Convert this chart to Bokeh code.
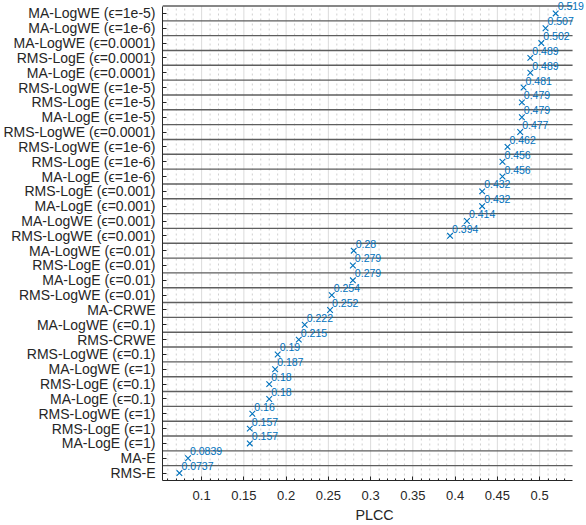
from bokeh.plotting import figure
from bokeh.models import Range1d, FixedTicker, ColumnDataSource
from bokeh.core.properties import value
from bokeh.embed import file_html
from bokeh.resources import INLINE

names = [
    "MA-LogWE (ϵ=1e-5)", "MA-LogWE (ϵ=1e-6)", "MA-LogWE (ϵ=0.0001)",
    "RMS-LogE (ϵ=0.0001)", "MA-LogE (ϵ=0.0001)", "RMS-LogWE (ϵ=1e-5)",
    "RMS-LogE (ϵ=1e-5)", "MA-LogE (ϵ=1e-5)", "RMS-LogWE (ϵ=0.0001)",
    "RMS-LogWE (ϵ=1e-6)", "RMS-LogE (ϵ=1e-6)", "MA-LogE (ϵ=1e-6)",
    "RMS-LogE (ϵ=0.001)", "MA-LogE (ϵ=0.001)", "MA-LogWE (ϵ=0.001)",
    "RMS-LogWE (ϵ=0.001)", "MA-LogWE (ϵ=0.01)", "RMS-LogE (ϵ=0.01)",
    "MA-LogE (ϵ=0.01)", "RMS-LogWE (ϵ=0.01)", "MA-CRWE",
    "MA-LogWE (ϵ=0.1)", "RMS-CRWE", "RMS-LogWE (ϵ=0.1)",
    "MA-LogWE (ϵ=1)", "RMS-LogE (ϵ=0.1)", "MA-LogE (ϵ=0.1)",
    "RMS-LogWE (ϵ=1)", "RMS-LogE (ϵ=1)", "MA-LogE (ϵ=1)",
    "MA-E", "RMS-E",
]
plcc = [
    0.519, 0.507, 0.502, 0.489, 0.489, 0.481, 0.479, 0.479, 0.477,
    0.462, 0.456, 0.456, 0.432, 0.432, 0.414, 0.394, 0.28, 0.279,
    0.279, 0.254, 0.252, 0.222, 0.215, 0.19, 0.187, 0.18, 0.18,
    0.16, 0.157, 0.157, 0.0839, 0.0737,
]
x_ticks = [0.1, 0.15, 0.2, 0.25, 0.3, 0.35, 0.4, 0.45, 0.5]
x_minor = [round(0.06 + 0.01 * k, 2) for k in range(48)]

N = len(names)
ypos = [N - i for i in range(N)]
src = ColumnDataSource(dict(x=plcc, y=ypos, t=[f"{v:g}" for v in plcc]))

blue = "#0072BD"
dark = "#262626"
font = "Liberation Sans"

# visible axes box (MATLAB-like limits) and an enlarged frame so value texts are not clipped
xlo, xhi = min(plcc) - 0.02, max(plcc) + 0.02
ylo, yhi = 0.5, N + 0.5
box_w, frame_w = 412, 426      # px
box_h, frame_h = 474.5, 480    # px
x_end = xlo + (xhi - xlo) * frame_w / box_w
y_end = ylo + (yhi - ylo) * frame_h / box_h
minor_only = [m for m in x_minor if all(abs(m - t) > 1e-9 for t in x_ticks) and xlo < m < xhi]

p = figure(width=586, height=525, output_backend="svg", toolbar_location=None,
           x_range=Range1d(xlo, x_end), y_range=Range1d(ylo, y_end),
           min_border_left=160, min_border_right=0, min_border_top=0,
           min_border_bottom=45)
p.outline_line_color = None
p.background_fill_color = "white"
p.border_fill_color = "white"
p.xgrid.grid_line_color = None
p.ygrid.grid_line_color = None

# grid inside the axes box
p.segment(x0=minor_only, y0=ylo, x1=minor_only, y1=yhi, line_color="#d0d0d0",
          line_dash="2 3", line_width=1)
p.segment(x0=x_ticks, y0=ylo, x1=x_ticks, y1=yhi, line_color="#dcdcdc", line_width=1)

# separators between categories
seps = [k + 0.5 for k in range(1, N + 1)]
p.segment(x0=xlo, y0=seps, x1=xhi, y1=seps, line_color="#5e5e5e", line_width=1.4)

p.scatter("x", "y", source=src, marker="x", size=8, line_color=blue, line_width=1.1)
p.text("x", "y", text="t", source=src, x_offset=2, y_offset=-7,
       text_font_size="10.5px", text_color=blue, text_align="left",
       text_baseline="alphabetic", text_font=value(font))

# x axis
xa = p.xaxis[0]
xa.bounds = (xlo, xhi)
xa.ticker = FixedTicker(ticks=x_ticks, minor_ticks=[m for m in x_minor if m < xhi])
xa.axis_label = "PLCC"
xa.axis_label_text_font = font
xa.axis_label_text_font_style = "normal"
xa.axis_label_text_font_size = "14.3px"
xa.axis_label_text_color = dark
xa.axis_label_standoff = 4
xa.major_label_text_font = font
xa.major_label_text_font_size = "13px"
xa.major_label_text_color = dark
xa.major_label_standoff = 10
xa.axis_line_color = dark
xa.major_tick_line_color = dark
xa.minor_tick_line_color = dark
xa.major_tick_in = 4
xa.major_tick_out = 0
xa.minor_tick_in = 2
xa.minor_tick_out = 0

# y axis
ya = p.yaxis[0]
ya.bounds = (ylo, yhi)
ya.ticker = FixedTicker(ticks=ypos)
ya.major_label_overrides = {y: n for y, n in zip(ypos, names)}
ya.major_label_text_font = font
ya.major_label_text_font_size = "14px"
ya.major_label_text_color = dark
ya.major_label_standoff = 7
ya.axis_line_color = dark
ya.major_tick_line_color = dark
ya.minor_tick_line_color = None
ya.major_tick_in = 4
ya.major_tick_out = 0

open("out.html", "w").write(file_html(p, INLINE))
